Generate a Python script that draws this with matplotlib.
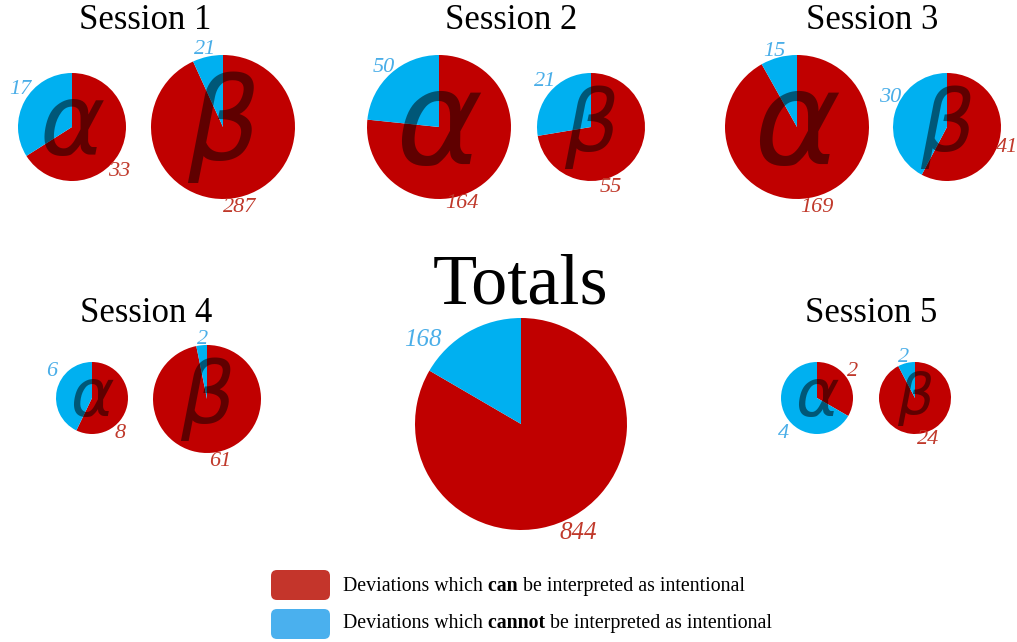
import matplotlib
matplotlib.use("Agg")
import matplotlib.pyplot as plt
from matplotlib.patches import FancyBboxPatch

W, H = 1017, 642

# counts per session: "can" = can be interpreted as intentional
sessions = ["Session 1", "Session 2", "Session 3", "Session 4", "Session 5"]
alpha_can = [33, 164, 169, 8, 2]
alpha_cannot = [17, 50, 15, 6, 4]
beta_can = [287, 55, 41, 61, 24]
beta_cannot = [21, 21, 30, 2, 2]
total_can = sum(alpha_can) + sum(beta_can)
total_cannot = sum(alpha_cannot) + sum(beta_cannot)

legend_labels = [("Deviations which", " can", " be interpreted as intentional"),
                 ("Deviations which", " cannot", " be interpreted as intentional")]

# layout (pixels, y from top)
title_pos = [(145, 29), (511, 29), (872, 29), (146, 322), (871, 322)]
alpha_center = [(72, 127), (439, 127), (797, 127), (92, 398), (817, 398)]
alpha_radius = [54, 72, 72, 36, 36]
beta_center = [(223, 127), (591, 127), (947, 127), (207, 399), (915, 398)]
beta_radius = [72, 54, 54, 54, 36]
# label offsets from pie centre (dx, dy up)
alpha_off_can = [(47, -45), (23, -76), (20, -80), (28, -35), (36, 26)]
alpha_off_cannot = [(-52, 37), (-55, 59), (-23, 75), (-40, 26), (-34, -35)]
beta_off_can = [(17, -80), (20, -61), (60, -20), (13, -62), (13, -42)]
beta_off_cannot = [(-18, 77), (-46, 45), (-57, 30), (-4, 60), (-11, 41)]
total_center = (521, 424)
total_radius = 106
legend_rows = [(570, 591), (609, 628)]  # box top, text baseline

RED = "#c00000"
BLUE = "#00b0f0"
RED_TXT = "#c0392b"
BLUE_TXT = "#4aaee8"
SERIF = "Liberation Serif"

fig = plt.figure(figsize=(W / 100, H / 100), dpi=100)
ax = fig.add_axes([0, 0, 1, 1])


def draw_pie(c, r, can, cannot, letter, off_can, off_cannot, lsize=16):
    cx, cy = c[0], H - c[1]
    ax.pie([can, cannot], colors=[RED, BLUE], startangle=90, counterclock=False,
           radius=r, center=(cx, cy), frame=True, wedgeprops=dict(linewidth=0))
    if letter:
        fs = r * (1.32 if letter == "α" else 1.14)
        ax.text(cx, cy, letter, fontsize=fs, family="DejaVu Sans", style="italic",
                color="black", alpha=0.5, ha="center", va="center")
    ax.text(cx + off_can[0], cy + off_can[1], str(can), fontsize=lsize, family=SERIF,
            style="italic", color=RED_TXT, ha="center", va="center")
    ax.text(cx + off_cannot[0], cy + off_cannot[1], str(cannot), fontsize=lsize,
            family=SERIF, style="italic", color=BLUE_TXT, ha="center", va="center")


for i in range(len(sessions)):
    ax.text(title_pos[i][0], H - title_pos[i][1], sessions[i], fontsize=25,
            family=SERIF, ha="center", va="baseline")
    draw_pie(alpha_center[i], alpha_radius[i], alpha_can[i], alpha_cannot[i], "α",
             alpha_off_can[i], alpha_off_cannot[i])
    draw_pie(beta_center[i], beta_radius[i], beta_can[i], beta_cannot[i], "β",
             beta_off_can[i], beta_off_cannot[i])

ax.text(520, H - 303, "Totals", fontsize=52, family=SERIF, ha="center", va="baseline")
draw_pie(total_center, total_radius, total_can, total_cannot, None,
         (57, -109), (-98, 84), lsize=18)

# legend
for j, col in enumerate(["#c4352b", "#4ab0ee"]):
    top, base = legend_rows[j]
    box = FancyBboxPatch((271, H - top - 30), 59, 30,
                         boxstyle="round,pad=0,rounding_size=6",
                         facecolor=col, edgecolor="none")
    ax.add_patch(box)
    a, b, c = legend_labels[j]
    t1 = ax.text(343, H - base, a, fontsize=14.3, family=SERIF, va="baseline")
    t2 = ax.annotate(b, xy=(1, 0), xycoords=t1, fontsize=14.3, family=SERIF,
                     weight="bold", va="bottom")
    ax.annotate(c, xy=(1, 0), xycoords=t2, fontsize=14.3, family=SERIF, va="bottom")

ax.set_xlim(0, W)
ax.set_ylim(0, H)
ax.set_aspect("equal")
ax.axis("off")

fig.savefig("out.png", dpi=100)
